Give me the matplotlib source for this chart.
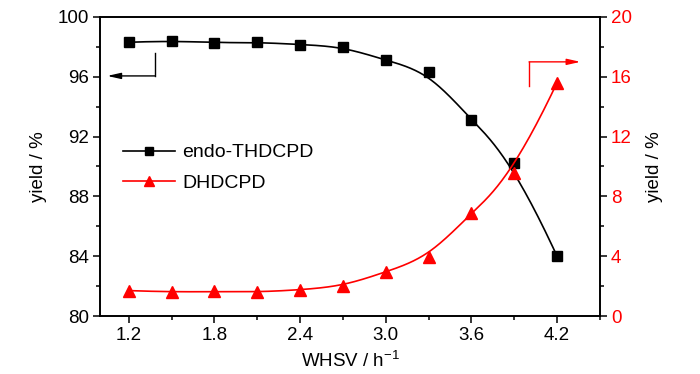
import numpy as np
import matplotlib
matplotlib.use("Agg")
import matplotlib.pyplot as plt
from matplotlib.lines import Line2D

plt.rcParams['font.family'] = ['Liberation Sans', 'DejaVu Sans']
plt.rcParams['mathtext.fontset'] = 'custom'
plt.rcParams['mathtext.rm'] = 'Liberation Sans'
plt.rcParams['mathtext.default'] = 'regular'

whsv = [1.2, 1.5, 1.8, 2.1, 2.4, 2.7, 3.0, 3.3, 3.6, 3.9, 4.2]
endo_thdcpd = [98.3, 98.4, 98.25, 98.3, 98.15, 98.0, 97.1, 96.3, 93.1, 90.2, 84.0]
dhdcpd = [1.7, 1.6, 1.65, 1.6, 1.75, 2.0, 2.95, 3.95, 6.9, 9.55, 15.6]
x_ticks = [1.2, 1.8, 2.4, 3.0, 3.6, 4.2]
left_ticks = [80, 84, 88, 92, 96, 100]
right_ticks = [0, 4, 8, 12, 16, 20]


def bspline_curve(x, y, n=500, k=3):
    """Clamped cubic B-spline using the data points as control points."""
    P = np.column_stack([x, y]).astype(float)
    m = len(P)
    inner = np.arange(1, m - k)
    knots = np.concatenate([np.zeros(k + 1), inner, np.full(k + 1, m - k)]).astype(float)
    ts = np.linspace(0, m - k, n)
    ts[-1] -= 1e-9
    N = np.zeros((n, len(knots) - 1))
    for i in range(len(knots) - 1):
        N[:, i] = (ts >= knots[i]) & (ts < knots[i + 1])
    for d in range(1, k + 1):
        Nn = np.zeros((n, len(knots) - 1 - d))
        for i in range(len(knots) - 1 - d):
            a = knots[i + d] - knots[i]
            b = knots[i + d + 1] - knots[i + 1]
            t1 = (ts - knots[i]) / a * N[:, i] if a > 0 else 0
            t2 = (knots[i + d + 1] - ts) / b * N[:, i + 1] if b > 0 else 0
            Nn[:, i] = t1 + t2
        N = Nn
    C = N @ P
    return C[:, 0], C[:, 1]


fig = plt.figure(figsize=(7.0, 3.74), dpi=100)
ax = fig.add_axes([0.143, 0.155, 0.714, 0.80])
ax2 = ax.twinx()

fs = 13.5
xs, ys = bspline_curve(whsv, endo_thdcpd)
ax.plot(xs, ys, color='black', lw=1.2, zorder=2)
ax.plot(whsv, endo_thdcpd, ls='none', marker='s', ms=6.5, color='black', zorder=3)

xs2, ys2 = bspline_curve(whsv, dhdcpd)
ax2.plot(xs2, ys2, color='red', lw=1.2, zorder=2)
ax2.plot(whsv, dhdcpd, ls='none', marker='^', ms=8, color='red', zorder=3)

ax.set_xlim(1.0, 4.5)
ax.set_ylim(80, 100)
ax2.set_ylim(0, 20)
ax.set_xticks(x_ticks)
ax.set_xticklabels([f"{v:.1f}" for v in x_ticks])
ax.set_xticks([1.5, 2.1, 2.7, 3.3, 3.9, 4.5], minor=True)
ax.set_yticks(left_ticks)
ax.set_yticks([82, 86, 90, 94, 98], minor=True)
ax2.set_yticks(right_ticks)
ax2.set_yticks([2, 6, 10, 14, 18], minor=True)

for a in (ax, ax2):
    for s in a.spines.values():
        s.set_linewidth(1.2)
    a.tick_params(which='major', direction='out', length=5, width=1.1, labelsize=fs, pad=3)
    a.tick_params(which='minor', direction='out', length=3, width=1.1)
ax.tick_params(axis='x', which='both', top=False)
ax2.tick_params(axis='y', which='both', colors='black', labelcolor='red')

ax.set_xlabel('WHSV / h$^{-1}$', fontsize=fs, labelpad=5)
ax.set_ylabel('yield / %', fontsize=fs, labelpad=8)
ax2.set_ylabel('yield / %', fontsize=fs, labelpad=10)

h1 = Line2D([], [], color='black', lw=1.2, marker='s', ms=6)
h2 = Line2D([], [], color='red', lw=1.2, marker='^', ms=7.5)
ax.legend([h1, h2], ['endo-THDCPD', 'DHDCPD'], loc='center left',
          bbox_to_anchor=(0.01, 0.495), frameon=False, fontsize=14,
          handlelength=2.7, labelspacing=0.68, handletextpad=0.35)

ax.plot([1.385, 1.385], [97.6, 96.05], color='black', lw=1.0)
ax.annotate('', xy=(1.05, 96.05), xytext=(1.385, 96.05),
            arrowprops=dict(arrowstyle='-|>,head_length=0.8,head_width=0.18',
                            color='black', lw=1.0, shrinkA=0, shrinkB=0))
ax2.plot([4.004, 4.004], [15.38, 16.99], color='red', lw=1.0)
ax2.annotate('', xy=(4.364, 16.99), xytext=(4.004, 16.99),
             arrowprops=dict(arrowstyle='-|>,head_length=0.8,head_width=0.18',
                             color='red', lw=1.0, shrinkA=0, shrinkB=0))

fig.savefig('out.png', dpi=100)
